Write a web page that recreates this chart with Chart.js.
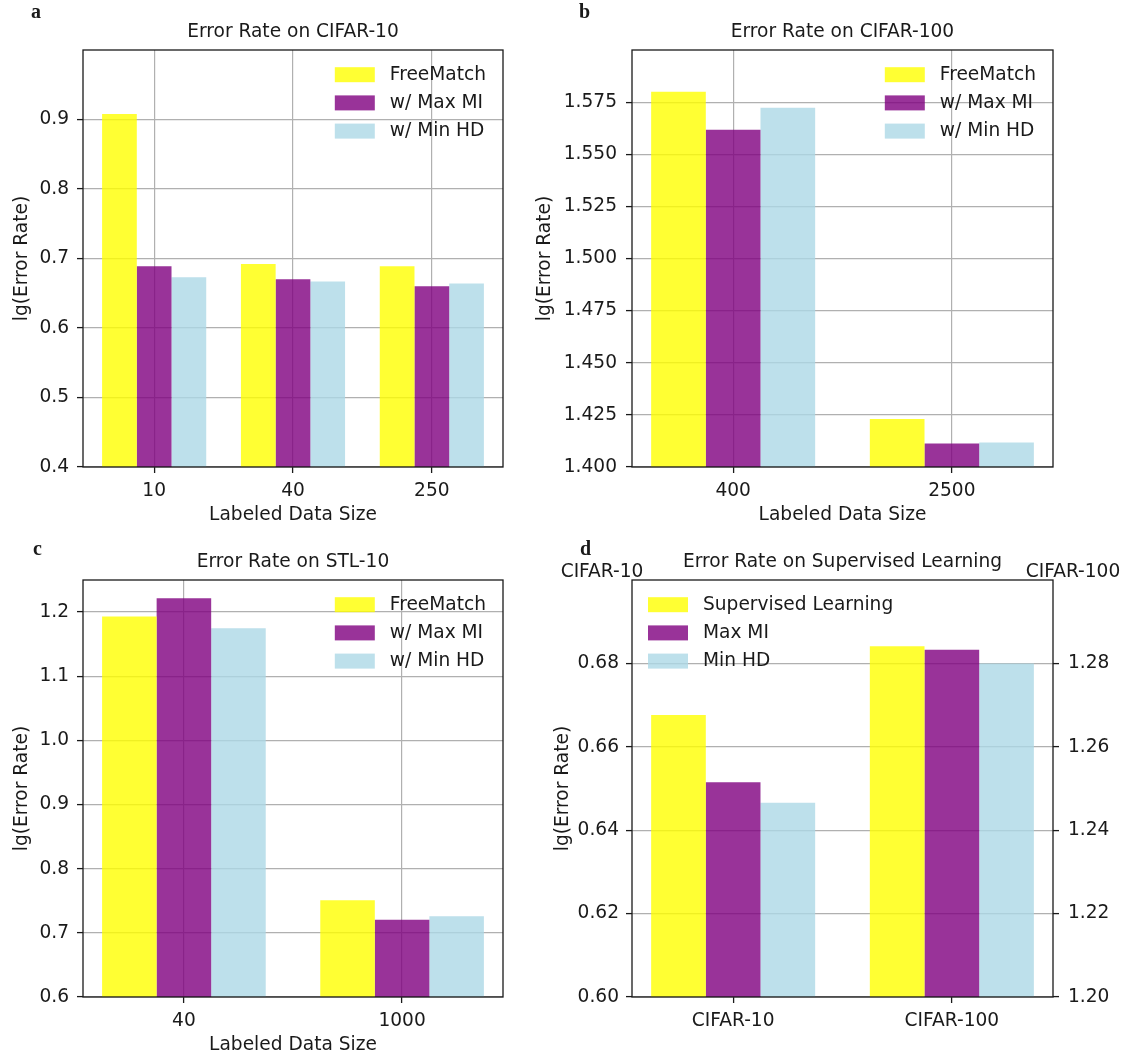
<!DOCTYPE html>
<html lang="en">
<head>
<meta charset="UTF-8">
<meta name="viewport" content="width=device-width, initial-scale=1.0">
<title>lg(Error Rate) comparison</title>
<script src="https://cdn.jsdelivr.net/npm/chart.js@4.4.1/dist/chart.umd.min.js"></script>
<style>
    html, body {
        margin: 0;
        padding: 0;
        background: #fff;
        overflow: hidden;
    }
    .panel {
        position: absolute;
    }
</style>
</head>
<body>
<div class="panel" style="left:0;top:0;width:520px;height:530px"><canvas id="chartA"></canvas></div>
<div class="panel" style="left:520px;top:0;width:608px;height:530px"><canvas id="chartB"></canvas></div>
<div class="panel" style="left:0;top:530px;width:520px;height:530px"><canvas id="chartC"></canvas></div>
<div class="panel" style="left:520px;top:530px;width:608px;height:530px"><canvas id="chartD"></canvas></div>

<script>
// a: CIFAR-10
const labelsA = ['10', '40', '250'];
const freeMatchA = [0.908, 0.692, 0.689];
const maxMiA = [0.689, 0.670, 0.660];
const minHdA = [0.673, 0.667, 0.664];
const ticksA = [0.4, 0.5, 0.6, 0.7, 0.8, 0.9];

// b: CIFAR-100
const labelsB = ['400', '2500'];
const freeMatchB = [1.580, 1.423];
const maxMiB = [1.5617, 1.4113];
const minHdB = [1.5723, 1.4118];
const ticksB = [1.400, 1.425, 1.450, 1.475, 1.500, 1.525, 1.550, 1.575];

// c: STL-10
const labelsC = ['40', '1000'];
const freeMatchC = [1.193, 0.751];
const maxMiC = [1.2215, 0.7205];
const minHdC = [1.1748, 0.726];
const ticksC = [0.6, 0.7, 0.8, 0.9, 1.0, 1.1, 1.2];

// d: supervised learning, CIFAR-10 on the left axis, CIFAR-100 on the right axis
const labelsD = ['CIFAR-10', 'CIFAR-100'];
const supervisedD = [0.6676, 1.2841];
const maxMiD = [0.6515, 1.2833];
const minHdD = [0.6466, 1.2800];
const ticksD = [0.60, 0.62, 0.64, 0.66, 0.68];
const ticksD2 = [1.20, 1.22, 1.24, 1.26, 1.28];

const YELLOW = 'rgba(255, 255, 0, 0.8)';
const PURPLE = 'rgba(128, 0, 128, 0.8)';
const LIGHTBLUE = 'rgba(173, 216, 230, 0.8)';
const INK = '#1a1a1a';
const GRID = '#b0b0b0';
const FONT = "'DejaVu Sans', sans-serif";
const FS = 18.6;

Chart.defaults.font.family = FONT;
Chart.defaults.font.size = FS;
Chart.defaults.color = INK;
Chart.defaults.animation = false;
Chart.defaults.plugins.legend.display = false;
Chart.defaults.plugins.tooltip.enabled = false;

// axes box, frameless legend and loose labels
const panelDecor = {
    id: 'panelDecor',
    afterDraw(chart, args, opts) {
        const { ctx, chartArea: a } = chart;
        ctx.save();
        ctx.strokeStyle = INK;
        ctx.lineWidth = 1.3;
        ctx.strokeRect(a.left, a.top, a.right - a.left, a.bottom - a.top);

        const items = opts.items || [];
        ctx.font = `${FS}px ${FONT}`;
        ctx.textBaseline = 'middle';
        ctx.textAlign = 'left';
        const textW = Math.max(...items.map(it => ctx.measureText(it.text).width));
        const boxW = 40, boxH = 15, gap = 15, rowH = 28.2;
        const x0 = opts.corner === 'left' ? a.left + 16 : a.right - 17 - textW - gap - boxW;
        items.forEach((it, i) => {
            const cy = a.top + 24.7 + i * rowH;
            ctx.fillStyle = it.color;
            ctx.fillRect(x0, cy - boxH / 2, boxW, boxH);
            ctx.fillStyle = INK;
            ctx.fillText(it.text, x0 + boxW + gap, cy);
        });

        (opts.texts || []).forEach(t => {
            ctx.font = t.font;
            ctx.textAlign = t.align;
            ctx.textBaseline = t.baseline;
            ctx.fillStyle = INK;
            ctx.fillText(t.text, t.x, t.y);
        });
        ctx.restore();
    }
};

function gridOpts(onArea) {
    return {
        offset: false,
        color: GRID,
        lineWidth: 1.2,
        drawOnChartArea: onArea,
        drawTicks: true,
        tickLength: 6,
        tickColor: INK,
        tickWidth: 1.3
    };
}

function xScale(labels, showGrid) {
    const pad = 0.375 + 0.05 * (labels.length - 0.25);
    return {
        type: 'linear',
        position: 'bottom',
        min: -pad,
        max: labels.length - 1 + pad,
        offset: false,
        afterBuildTicks: s => { s.ticks = labels.map((_, i) => ({ value: i })); },
        afterFit: s => { s.height = 63; },
        ticks: { callback: v => labels[v], padding: 6.8, maxRotation: 0, autoSkip: false },
        grid: gridOpts(showGrid),
        border: { display: false },
        title: { display: true, text: 'Labeled Data Size', padding: { top: 0, bottom: 3.8 } }
    };
}

function yScale(opt) {
    return {
        type: 'linear',
        position: opt.position || 'left',
        min: opt.min,
        max: opt.max,
        beginAtZero: false,
        afterBuildTicks: s => { s.ticks = opt.ticks.map(v => ({ value: v })); },
        afterFit: s => { s.width = opt.width; },
        ticks: { callback: v => v.toFixed(opt.decimals), padding: opt.tickPad },
        grid: gridOpts(opt.grid !== false),
        border: { display: false },
        title: {
            display: !!opt.title,
            text: opt.title || '',
            padding: { top: opt.titlePad || 0, bottom: 0 }
        }
    };
}

const titleOpts = text => ({
    display: true,
    text: text,
    fullSize: false,
    color: INK,
    font: { size: FS, weight: 'normal' },
    padding: { top: 20.84, bottom: 6.84 }
});

const letter = (text, x, y) => ({
    text, x, y, align: 'left', baseline: 'alphabetic',
    font: "bold 20px 'Liberation Serif', serif"
});

const seriesNames = ['FreeMatch', 'w/ Max MI', 'w/ Min HD'];
const colors = [YELLOW, PURPLE, LIGHTBLUE];

function barDatasets(seriesList) {
    return seriesList.map((values, k) => ({
        label: seriesNames[k],
        data: values.map((v, i) => ({ x: i, y: v })),
        backgroundColor: colors[k],
        borderWidth: 0,
        categoryPercentage: 0.75,
        barPercentage: 1.0
    }));
}

function groupedPanel(id, cfg) {
    return new Chart(document.getElementById(id), {
        type: 'bar',
        data: { datasets: barDatasets(cfg.series) },
        options: {
            responsive: true,
            maintainAspectRatio: false,
            layout: { padding: { left: 0, right: cfg.rightPad, top: 0, bottom: 0 } },
            scales: {
                x: xScale(cfg.labels, true),
                y: yScale({
                    min: cfg.min, max: cfg.max, ticks: cfg.ticks, decimals: cfg.decimals,
                    width: cfg.yWidth, tickPad: cfg.tickPad,
                    title: 'lg(Error Rate)', titlePad: cfg.titlePad
                })
            },
            plugins: {
                title: titleOpts(cfg.title),
                panelDecor: {
                    corner: 'right',
                    items: seriesNames.map((t, k) => ({ text: t, color: colors[k] })),
                    texts: [cfg.letter]
                }
            }
        },
        plugins: [panelDecor]
    });
}

groupedPanel('chartA', {
    labels: labelsA, series: [freeMatchA, maxMiA, minHdA],
    min: 0.4, max: 1.0, ticks: ticksA, decimals: 1,
    yWidth: 83, tickPad: 8, titlePad: 10.8, rightPad: 17,
    title: 'Error Rate on CIFAR-10', letter: letter('a', 31, 18)
});

groupedPanel('chartB', {
    labels: labelsB, series: [freeMatchB, maxMiB, minHdB],
    min: 1.4, max: 1.6, ticks: ticksB, decimals: 3,
    yWidth: 112, tickPad: 9, titlePad: 13.8, rightPad: 75,
    title: 'Error Rate on CIFAR-100', letter: letter('b', 59, 18)
});

groupedPanel('chartC', {
    labels: labelsC, series: [freeMatchC, maxMiC, minHdC],
    min: 0.6, max: 1.25, ticks: ticksC, decimals: 1,
    yWidth: 83, tickPad: 8, titlePad: 10.8, rightPad: 17,
    title: 'Error Rate on STL-10', letter: letter('c', 33, 24.5)
});

// d: each group sits on its own y axis, so every series is split into two datasets
const namesD = ['Supervised Learning', 'Max MI', 'Min HD'];
const seriesD = [supervisedD, maxMiD, minHdD];
const datasetsD = [];
['y', 'y1'].forEach((axis, i) => {
    seriesD.forEach((values, k) => {
        datasetsD.push({
            label: namesD[k],
            data: [{ x: i, y: values[i] }],
            yAxisID: axis,
            backgroundColor: colors[k],
            borderWidth: 0,
            categoryPercentage: 0.75,
            barPercentage: 1.0,
            skipNull: true
        });
    });
});

const xD = xScale(labelsD, false);
xD.title = { display: false };

new Chart(document.getElementById('chartD'), {
    type: 'bar',
    data: { datasets: datasetsD },
    options: {
        responsive: true,
        maintainAspectRatio: false,
        layout: { padding: 0 },
        scales: {
            x: xD,
            y: yScale({
                min: 0.6, max: 0.7, ticks: ticksD, decimals: 2,
                width: 112, tickPad: 7, title: 'lg(Error Rate)', titlePad: 31.8
            }),
            y1: yScale({
                position: 'right', min: 1.2, max: 1.3, ticks: ticksD2, decimals: 2,
                width: 75, tickPad: 9, grid: false
            })
        },
        plugins: {
            title: titleOpts('Error Rate on Supervised Learning'),
            panelDecor: {
                corner: 'left',
                items: namesD.map((t, k) => ({ text: t, color: colors[k] })),
                texts: [
                    letter('d', 60, 25),
                    { text: 'CIFAR-10', x: 82, y: 42, align: 'center', baseline: 'middle', font: `${FS}px ${FONT}` },
                    { text: 'CIFAR-100', x: 553, y: 42, align: 'center', baseline: 'middle', font: `${FS}px ${FONT}` }
                ]
            }
        }
    },
    plugins: [panelDecor]
});
</script>
</body>
</html>
